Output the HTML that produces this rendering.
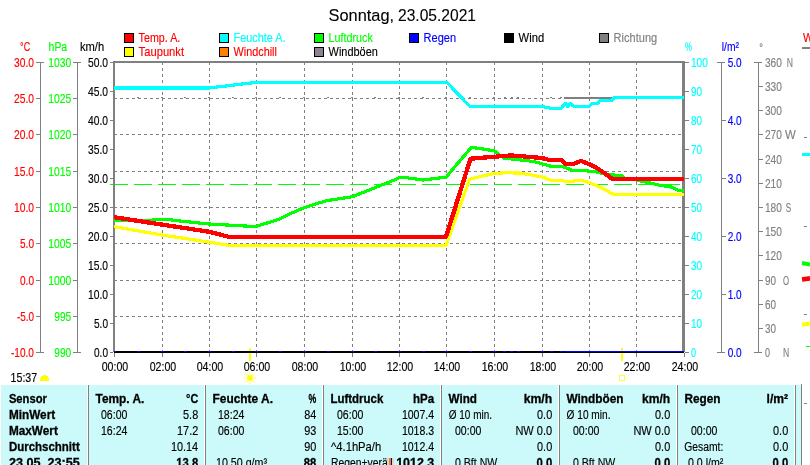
<!DOCTYPE html>
<html lang="de"><head><meta charset="utf-8"><title>Sonntag, 23.05.2021</title>
<style>html,body{margin:0;padding:0;background:#fff;overflow:hidden}svg{display:block}text{white-space:pre}</style></head>
<body>
<svg width="810" height="465" viewBox="0 0 810 465" font-family="'Liberation Sans',sans-serif" shape-rendering="crispEdges">
<rect width="810" height="465" fill="#fff"/>
<text y="21" font-size="16.2" fill="#000" stroke="#000" stroke-width="0.1"><tspan x="328.6" textLength="65.5" lengthAdjust="spacingAndGlyphs">Sonntag,</tspan> <tspan x="398" textLength="78" lengthAdjust="spacingAndGlyphs">23.05.2021</tspan></text>
<rect x="124.5" y="33.5" width="9" height="9" fill="#ff0000" stroke="#000" stroke-width="1"/>
<text transform="translate(138.60,42) scale(0.8576,1)" fill="#ff0000" stroke="#ff0000" stroke-width="0.15" font-size="12.5">Temp. A.</text>
<rect x="124.5" y="47.5" width="9" height="9" fill="#ffff00" stroke="#000" stroke-width="1"/>
<text transform="translate(138.60,56) scale(0.8966,1)" fill="#ff0000" stroke="#ff0000" stroke-width="0.15" font-size="12.5">Taupunkt</text>
<rect x="219.5" y="33.5" width="9" height="9" fill="#00ffff" stroke="#000" stroke-width="1"/>
<text transform="translate(233.60,42) scale(0.8700,1)" fill="#00ffff" stroke="#00ffff" stroke-width="0.15" font-size="12.5">Feuchte A.</text>
<rect x="219.5" y="47.5" width="9" height="9" fill="#ff8000" stroke="#000" stroke-width="1"/>
<text transform="translate(233.60,56) scale(0.8660,1)" fill="#ff0000" stroke="#ff0000" stroke-width="0.15" font-size="12.5">Windchill</text>
<rect x="314.5" y="33.5" width="9" height="9" fill="#00ff00" stroke="#000" stroke-width="1"/>
<text transform="translate(328.60,42) scale(0.8602,1)" fill="#00ff00" stroke="#00ff00" stroke-width="0.15" font-size="12.5">Luftdruck</text>
<rect x="314.5" y="47.5" width="9" height="9" fill="#8c8292" stroke="#000" stroke-width="1"/>
<text transform="translate(328.60,56) scale(0.8755,1)" fill="#000" stroke="#000" stroke-width="0.15" font-size="12.5">Windböen</text>
<rect x="409.5" y="33.5" width="9" height="9" fill="#0000ff" stroke="#000" stroke-width="1"/>
<text transform="translate(423.60,42) scale(0.8829,1)" fill="#0000ff" stroke="#0000ff" stroke-width="0.15" font-size="12.5">Regen</text>
<rect x="504.5" y="33.5" width="9" height="9" fill="#000000" stroke="#000" stroke-width="1"/>
<text transform="translate(518.60,42) scale(0.8982,1)" fill="#000" stroke="#000" stroke-width="0.15" font-size="12.5">Wind</text>
<rect x="599.5" y="33.5" width="9" height="9" fill="#808080" stroke="#000" stroke-width="1"/>
<text transform="translate(613.60,42) scale(0.8842,1)" fill="#808080" stroke="#808080" stroke-width="0.15" font-size="12.5">Richtung</text>
<g stroke="#808080" stroke-width="1" stroke-dasharray="3 3" fill="none">
<line x1="162.5" y1="62" x2="162.5" y2="351"/>
<line x1="209.5" y1="62" x2="209.5" y2="351"/>
<line x1="256.5" y1="62" x2="256.5" y2="351"/>
<line x1="304.5" y1="62" x2="304.5" y2="351"/>
<line x1="352.5" y1="62" x2="352.5" y2="351"/>
<line x1="399.5" y1="62" x2="399.5" y2="351"/>
<line x1="446.5" y1="62" x2="446.5" y2="351"/>
<line x1="494.5" y1="62" x2="494.5" y2="351"/>
<line x1="542.5" y1="62" x2="542.5" y2="351"/>
<line x1="589.5" y1="62" x2="589.5" y2="351"/>
<line x1="636.5" y1="62" x2="636.5" y2="351"/>
<line x1="114" y1="98.5" x2="683" y2="98.5"/>
<line x1="114" y1="134.5" x2="683" y2="134.5"/>
<line x1="114" y1="171.5" x2="683" y2="171.5"/>
<line x1="114" y1="207.5" x2="683" y2="207.5"/>
<line x1="114" y1="243.5" x2="683" y2="243.5"/>
<line x1="114" y1="280.5" x2="683" y2="280.5"/>
<line x1="114" y1="316.5" x2="683" y2="316.5"/>
</g>
<line x1="110.2" y1="184.5" x2="683" y2="184.5" stroke="#00ff00" stroke-width="1" stroke-dasharray="17.5 6.5"/>
<g fill="#808080">
<rect x="137" y="97" width="2" height="1"/>
<rect x="161" y="97" width="2" height="1"/>
<rect x="184" y="97" width="2" height="1"/>
<rect x="208" y="97" width="2" height="1"/>
<rect x="232" y="97" width="2" height="1"/>
<rect x="255" y="97" width="2" height="1"/>
<rect x="279" y="97" width="2" height="1"/>
<rect x="303" y="97" width="2" height="1"/>
<rect x="327" y="97" width="2" height="1"/>
<rect x="351" y="97" width="2" height="1"/>
<rect x="374" y="97" width="2" height="1"/>
<rect x="398" y="97" width="2" height="1"/>
<rect x="422" y="97" width="2" height="1"/>
<rect x="445" y="97" width="2" height="1"/>
<rect x="469" y="97" width="2" height="1"/>
<rect x="493" y="97" width="2" height="1"/>
<rect x="504" y="97" width="2" height="1"/>
<rect x="511" y="97" width="2" height="1"/>
<rect x="517" y="97" width="2" height="1"/>
<rect x="550" y="97" width="2" height="1"/>
<rect x="560" y="97" width="2" height="1"/>
<rect x="564" y="97" width="49" height="2"/>
</g>
<rect x="113" y="61" width="572" height="2" fill="#808080"/>
<rect x="113" y="61" width="2" height="291" fill="#808080"/>
<rect x="682" y="61" width="3" height="291" fill="#808080"/>
<g shape-rendering="crispEdges">
<polyline points="114.0,88.0 209.0,88.0 256.5,82.3 446.8,82.3 469.7,106.3 544.0,106.3 544.5,107.3 549.0,107.3 549.5,108.3 561.2,108.3 565.5,103.2 567.7,106.6 570.3,103.3 573.7,106.4 589.3,106.4 591.9,103.6 597.5,103.6 600.0,100.4 611.7,100.4 614.2,97.5 684.0,97.5" fill="none" stroke="#00ffff" stroke-width="3.2" stroke-linejoin="round" stroke-linecap="butt"/>
<polyline points="114.0,226.7 162.0,235.0 209.4,242.2 229.0,245.4 446.0,245.4 469.5,179.3 480.0,176.5 494.5,173.4 505.0,172.8 520.0,173.0 542.3,177.0 551.0,180.2 561.0,180.4 567.0,181.8 581.0,180.3 589.6,182.6 603.4,188.6 610.3,192.8 614.6,194.5 684.0,194.5" fill="none" stroke="#ffff00" stroke-width="3.2" stroke-linejoin="round" stroke-linecap="butt"/>
<polyline points="114.0,220.6 150.0,220.4 155.0,219.8 170.0,219.8 180.0,221.0 209.0,224.0 250.0,226.3 256.5,226.2 267.3,222.9 279.4,219.1 291.5,213.2 304.0,207.7 326.0,200.8 352.0,196.8 390.0,181.8 400.4,177.3 405.0,177.5 422.8,180.0 445.3,177.3 446.5,177.0 452.0,170.0 471.5,147.3 494.5,150.8 503.5,158.0 533.7,161.5 551.0,166.3 563.0,166.7 572.3,170.3 586.0,170.8 596.5,172.0 608.0,175.0 621.0,175.2 624.0,178.0 634.0,179.0 638.0,180.6 648.3,182.4 658.7,185.1 672.5,187.2 677.7,190.3 684.0,190.7" fill="none" stroke="#00ff00" stroke-width="3.2" stroke-linejoin="round" stroke-linecap="butt"/>
<polyline points="114.0,217.2 162.0,224.6 209.4,231.8 229.0,236.9 446.0,236.9 470.5,158.7 511.2,155.4 542.3,158.0 549.0,160.0 561.0,160.0 565.4,163.9 573.0,164.0 581.0,161.0 589.6,164.4 596.5,167.9 605.0,173.4 612.0,178.8 614.0,179.2 684.0,179.2" fill="none" stroke="#ff0000" stroke-width="4.3" stroke-linejoin="round" stroke-linecap="butt"/>
</g>
<rect x="249" y="348" width="2" height="13" fill="#ffff00"/>
<rect x="621" y="348" width="2" height="13" fill="#ffff00"/>
<rect x="114" y="351" width="570" height="2" fill="#000"/>
<g fill="#0000ff">
<rect x="114" y="351" width="2" height="1"/>
<rect x="137" y="351" width="3" height="1"/>
<rect x="161" y="351" width="3" height="1"/>
<rect x="184" y="351" width="3" height="1"/>
<rect x="208" y="351" width="3" height="1"/>
<rect x="232" y="351" width="3" height="1"/>
<rect x="255" y="351" width="3" height="1"/>
<rect x="279" y="351" width="3" height="1"/>
<rect x="303" y="351" width="3" height="1"/>
<rect x="327" y="351" width="3" height="1"/>
<rect x="351" y="351" width="3" height="1"/>
<rect x="374" y="351" width="3" height="1"/>
<rect x="398" y="351" width="3" height="1"/>
<rect x="422" y="351" width="3" height="1"/>
<rect x="445" y="351" width="3" height="1"/>
<rect x="469" y="351" width="3" height="1"/>
<rect x="493" y="351" width="3" height="1"/>
<rect x="541" y="351" width="3" height="1"/>
<rect x="503" y="351" width="3" height="1"/>
<rect x="510" y="351" width="3" height="1"/>
<rect x="517" y="351" width="3" height="1"/>
<rect x="550" y="351" width="3" height="1"/>
<rect x="560" y="351" width="3" height="1"/>
<rect x="564" y="351" width="120" height="1"/>
</g>
<rect x="114" y="353" width="1" height="4" fill="#808080"/>
<text transform="translate(101.70,371) scale(0.8495,1)" fill="#000" stroke="#000" stroke-width="0.15" font-size="12.5">00:00</text>
<rect x="162" y="353" width="1" height="4" fill="#808080"/>
<text transform="translate(149.70,371) scale(0.8495,1)" fill="#000" stroke="#000" stroke-width="0.15" font-size="12.5">02:00</text>
<rect x="209" y="353" width="1" height="4" fill="#808080"/>
<text transform="translate(196.70,371) scale(0.8495,1)" fill="#000" stroke="#000" stroke-width="0.15" font-size="12.5">04:00</text>
<rect x="256" y="353" width="1" height="4" fill="#808080"/>
<text transform="translate(243.70,371) scale(0.8495,1)" fill="#000" stroke="#000" stroke-width="0.15" font-size="12.5">06:00</text>
<rect x="304" y="353" width="1" height="4" fill="#808080"/>
<text transform="translate(291.70,371) scale(0.8495,1)" fill="#000" stroke="#000" stroke-width="0.15" font-size="12.5">08:00</text>
<rect x="352" y="353" width="1" height="4" fill="#808080"/>
<text transform="translate(339.70,371) scale(0.8495,1)" fill="#000" stroke="#000" stroke-width="0.15" font-size="12.5">10:00</text>
<rect x="399" y="353" width="1" height="4" fill="#808080"/>
<text transform="translate(386.70,371) scale(0.8495,1)" fill="#000" stroke="#000" stroke-width="0.15" font-size="12.5">12:00</text>
<rect x="446" y="353" width="1" height="4" fill="#808080"/>
<text transform="translate(433.70,371) scale(0.8495,1)" fill="#000" stroke="#000" stroke-width="0.15" font-size="12.5">14:00</text>
<rect x="494" y="353" width="1" height="4" fill="#808080"/>
<text transform="translate(481.70,371) scale(0.8495,1)" fill="#000" stroke="#000" stroke-width="0.15" font-size="12.5">16:00</text>
<rect x="542" y="353" width="1" height="4" fill="#808080"/>
<text transform="translate(529.70,371) scale(0.8495,1)" fill="#000" stroke="#000" stroke-width="0.15" font-size="12.5">18:00</text>
<rect x="589" y="353" width="1" height="4" fill="#808080"/>
<text transform="translate(576.70,371) scale(0.8495,1)" fill="#000" stroke="#000" stroke-width="0.15" font-size="12.5">20:00</text>
<rect x="636" y="353" width="1" height="4" fill="#808080"/>
<text transform="translate(623.70,371) scale(0.8495,1)" fill="#000" stroke="#000" stroke-width="0.15" font-size="12.5">22:00</text>
<rect x="684" y="353" width="1" height="4" fill="#808080"/>
<text transform="translate(671.70,371) scale(0.8495,1)" fill="#000" stroke="#000" stroke-width="0.15" font-size="12.5">24:00</text>
<rect x="40" y="62" width="1" height="291" fill="#808080"/>
<rect x="36" y="62" width="8" height="1" fill="#808080"/>
<text transform="translate(14.00,67) scale(0.8226,1)" fill="#ff0000" stroke="#ff0000" stroke-width="0.15" font-size="12.5">30.0</text>
<rect x="36" y="98" width="4" height="1" fill="#808080"/>
<text transform="translate(14.00,103) scale(0.8226,1)" fill="#ff0000" stroke="#ff0000" stroke-width="0.15" font-size="12.5">25.0</text>
<rect x="36" y="134" width="4" height="1" fill="#808080"/>
<text transform="translate(14.00,139) scale(0.8226,1)" fill="#ff0000" stroke="#ff0000" stroke-width="0.15" font-size="12.5">20.0</text>
<rect x="36" y="171" width="4" height="1" fill="#808080"/>
<text transform="translate(14.00,176) scale(0.8226,1)" fill="#ff0000" stroke="#ff0000" stroke-width="0.15" font-size="12.5">15.0</text>
<rect x="36" y="207" width="4" height="1" fill="#808080"/>
<text transform="translate(14.00,212) scale(0.8226,1)" fill="#ff0000" stroke="#ff0000" stroke-width="0.15" font-size="12.5">10.0</text>
<rect x="36" y="243" width="4" height="1" fill="#808080"/>
<text transform="translate(20.00,248) scale(0.8058,1)" fill="#ff0000" stroke="#ff0000" stroke-width="0.15" font-size="12.5">5.0</text>
<rect x="36" y="280" width="4" height="1" fill="#808080"/>
<text transform="translate(20.00,285) scale(0.8058,1)" fill="#ff0000" stroke="#ff0000" stroke-width="0.15" font-size="12.5">0.0</text>
<rect x="36" y="316" width="4" height="1" fill="#808080"/>
<text transform="translate(17.00,321) scale(0.7884,1)" fill="#ff0000" stroke="#ff0000" stroke-width="0.15" font-size="12.5">-5.0</text>
<rect x="36" y="352" width="8" height="1" fill="#808080"/>
<text transform="translate(11.00,357) scale(0.8070,1)" fill="#ff0000" stroke="#ff0000" stroke-width="0.15" font-size="12.5">-10.0</text>
<text transform="translate(20.10,51) scale(0.7214,1)" fill="#ff0000" stroke="#ff0000" stroke-width="0.15" font-size="12.5">°C</text>
<rect x="77" y="62" width="1" height="291" fill="#808080"/>
<rect x="73" y="62" width="8" height="1" fill="#808080"/>
<text transform="translate(48.30,67) scale(0.8270,1)" fill="#00ff00" stroke="#00ff00" stroke-width="0.15" font-size="12.5">1030</text>
<rect x="73" y="98" width="4" height="1" fill="#808080"/>
<text transform="translate(48.30,103) scale(0.8270,1)" fill="#00ff00" stroke="#00ff00" stroke-width="0.15" font-size="12.5">1025</text>
<rect x="73" y="134" width="4" height="1" fill="#808080"/>
<text transform="translate(48.30,139) scale(0.8270,1)" fill="#00ff00" stroke="#00ff00" stroke-width="0.15" font-size="12.5">1020</text>
<rect x="73" y="171" width="4" height="1" fill="#808080"/>
<text transform="translate(48.30,176) scale(0.8270,1)" fill="#00ff00" stroke="#00ff00" stroke-width="0.15" font-size="12.5">1015</text>
<rect x="73" y="207" width="4" height="1" fill="#808080"/>
<text transform="translate(48.30,212) scale(0.8270,1)" fill="#00ff00" stroke="#00ff00" stroke-width="0.15" font-size="12.5">1010</text>
<rect x="73" y="243" width="4" height="1" fill="#808080"/>
<text transform="translate(48.30,248) scale(0.8270,1)" fill="#00ff00" stroke="#00ff00" stroke-width="0.15" font-size="12.5">1005</text>
<rect x="73" y="280" width="4" height="1" fill="#808080"/>
<text transform="translate(48.30,285) scale(0.8270,1)" fill="#00ff00" stroke="#00ff00" stroke-width="0.15" font-size="12.5">1000</text>
<rect x="73" y="316" width="4" height="1" fill="#808080"/>
<text transform="translate(54.30,321) scale(0.8144,1)" fill="#00ff00" stroke="#00ff00" stroke-width="0.15" font-size="12.5">995</text>
<rect x="73" y="352" width="8" height="1" fill="#808080"/>
<text transform="translate(54.30,357) scale(0.8144,1)" fill="#00ff00" stroke="#00ff00" stroke-width="0.15" font-size="12.5">990</text>
<text transform="translate(48.60,51) scale(0.8336,1)" fill="#00ff00" stroke="#00ff00" stroke-width="0.15" font-size="12.5">hPa</text>
<rect x="110" y="62" width="3" height="1" fill="#808080"/>
<text transform="translate(88.00,67) scale(0.8226,1)" fill="#000" stroke="#000" stroke-width="0.15" font-size="12.5">50.0</text>
<rect x="110" y="91" width="3" height="1" fill="#808080"/>
<text transform="translate(88.00,96) scale(0.8226,1)" fill="#000" stroke="#000" stroke-width="0.15" font-size="12.5">45.0</text>
<rect x="110" y="120" width="3" height="1" fill="#808080"/>
<text transform="translate(88.00,125) scale(0.8226,1)" fill="#000" stroke="#000" stroke-width="0.15" font-size="12.5">40.0</text>
<rect x="110" y="149" width="3" height="1" fill="#808080"/>
<text transform="translate(88.00,154) scale(0.8226,1)" fill="#000" stroke="#000" stroke-width="0.15" font-size="12.5">35.0</text>
<rect x="110" y="178" width="3" height="1" fill="#808080"/>
<text transform="translate(88.00,183) scale(0.8226,1)" fill="#000" stroke="#000" stroke-width="0.15" font-size="12.5">30.0</text>
<rect x="110" y="207" width="3" height="1" fill="#808080"/>
<text transform="translate(88.00,212) scale(0.8226,1)" fill="#000" stroke="#000" stroke-width="0.15" font-size="12.5">25.0</text>
<rect x="110" y="236" width="3" height="1" fill="#808080"/>
<text transform="translate(88.00,241) scale(0.8226,1)" fill="#000" stroke="#000" stroke-width="0.15" font-size="12.5">20.0</text>
<rect x="110" y="265" width="3" height="1" fill="#808080"/>
<text transform="translate(88.00,270) scale(0.8226,1)" fill="#000" stroke="#000" stroke-width="0.15" font-size="12.5">15.0</text>
<rect x="110" y="294" width="3" height="1" fill="#808080"/>
<text transform="translate(88.00,299) scale(0.8226,1)" fill="#000" stroke="#000" stroke-width="0.15" font-size="12.5">10.0</text>
<rect x="110" y="323" width="3" height="1" fill="#808080"/>
<text transform="translate(94.00,328) scale(0.8058,1)" fill="#000" stroke="#000" stroke-width="0.15" font-size="12.5">5.0</text>
<rect x="110" y="352" width="3" height="1" fill="#808080"/>
<text transform="translate(94.00,357) scale(0.8058,1)" fill="#000" stroke="#000" stroke-width="0.15" font-size="12.5">0.0</text>
<text transform="translate(79.90,51) scale(0.8942,1)" fill="#000" stroke="#000" stroke-width="0.15" font-size="12.5">km/h</text>
<rect x="685" y="62" width="4" height="1" fill="#808080"/>
<text transform="translate(690.90,67) scale(0.8144,1)" fill="#00ffff" stroke="#00ffff" stroke-width="0.15" font-size="12.5">100</text>
<rect x="685" y="91" width="4" height="1" fill="#808080"/>
<text transform="translate(690.90,96) scale(0.7928,1)" fill="#00ffff" stroke="#00ffff" stroke-width="0.15" font-size="12.5">90</text>
<rect x="685" y="120" width="4" height="1" fill="#808080"/>
<text transform="translate(690.90,125) scale(0.7928,1)" fill="#00ffff" stroke="#00ffff" stroke-width="0.15" font-size="12.5">80</text>
<rect x="685" y="149" width="4" height="1" fill="#808080"/>
<text transform="translate(690.90,154) scale(0.7928,1)" fill="#00ffff" stroke="#00ffff" stroke-width="0.15" font-size="12.5">70</text>
<rect x="685" y="178" width="4" height="1" fill="#808080"/>
<text transform="translate(690.90,183) scale(0.7928,1)" fill="#00ffff" stroke="#00ffff" stroke-width="0.15" font-size="12.5">60</text>
<rect x="685" y="207" width="4" height="1" fill="#808080"/>
<text transform="translate(690.90,212) scale(0.7928,1)" fill="#00ffff" stroke="#00ffff" stroke-width="0.15" font-size="12.5">50</text>
<rect x="685" y="236" width="4" height="1" fill="#808080"/>
<text transform="translate(690.90,241) scale(0.7928,1)" fill="#00ffff" stroke="#00ffff" stroke-width="0.15" font-size="12.5">40</text>
<rect x="685" y="265" width="4" height="1" fill="#808080"/>
<text transform="translate(690.90,270) scale(0.7928,1)" fill="#00ffff" stroke="#00ffff" stroke-width="0.15" font-size="12.5">30</text>
<rect x="685" y="294" width="4" height="1" fill="#808080"/>
<text transform="translate(690.90,299) scale(0.7928,1)" fill="#00ffff" stroke="#00ffff" stroke-width="0.15" font-size="12.5">20</text>
<rect x="685" y="323" width="4" height="1" fill="#808080"/>
<text transform="translate(690.90,328) scale(0.7928,1)" fill="#00ffff" stroke="#00ffff" stroke-width="0.15" font-size="12.5">10</text>
<rect x="685" y="352" width="4" height="1" fill="#808080"/>
<text transform="translate(690.90,357) scale(0.7207,1)" fill="#00ffff" stroke="#00ffff" stroke-width="0.15" font-size="12.5">0</text>
<text transform="translate(685.00,51) scale(0.6292,1)" fill="#00ffff" stroke="#00ffff" stroke-width="0.15" font-size="12.5">%</text>
<rect x="721" y="62" width="1" height="291" fill="#808080"/>
<rect x="717" y="62" width="8" height="1" fill="#808080"/>
<text transform="translate(727.70,67) scale(0.8058,1)" fill="#0000ff" stroke="#0000ff" stroke-width="0.15" font-size="12.5">5.0</text>
<rect x="722" y="120" width="4" height="1" fill="#808080"/>
<text transform="translate(727.70,125) scale(0.8058,1)" fill="#0000ff" stroke="#0000ff" stroke-width="0.15" font-size="12.5">4.0</text>
<rect x="722" y="178" width="4" height="1" fill="#808080"/>
<text transform="translate(727.70,183) scale(0.8058,1)" fill="#0000ff" stroke="#0000ff" stroke-width="0.15" font-size="12.5">3.0</text>
<rect x="722" y="236" width="4" height="1" fill="#808080"/>
<text transform="translate(727.70,241) scale(0.8058,1)" fill="#0000ff" stroke="#0000ff" stroke-width="0.15" font-size="12.5">2.0</text>
<rect x="722" y="294" width="4" height="1" fill="#808080"/>
<text transform="translate(727.70,299) scale(0.8058,1)" fill="#0000ff" stroke="#0000ff" stroke-width="0.15" font-size="12.5">1.0</text>
<rect x="717" y="352" width="8" height="1" fill="#808080"/>
<text transform="translate(727.70,357) scale(0.8058,1)" fill="#0000ff" stroke="#0000ff" stroke-width="0.15" font-size="12.5">0.0</text>
<text transform="translate(721.80,51) scale(0.8264,1)" fill="#0000ff" stroke="#0000ff" stroke-width="0.15" font-size="12.5">l/m²</text>
<rect x="758" y="62" width="1" height="291" fill="#808080"/>
<rect x="754" y="62" width="8" height="1" fill="#808080"/>
<text transform="translate(764.90,67) scale(0.8144,1)" fill="#808080" stroke="#808080" stroke-width="0.15" font-size="12.5">360</text>
<text transform="translate(786.70,67) scale(0.6889,1)" fill="#808080" stroke="#808080" stroke-width="0.15" font-size="12.5">N</text>
<rect x="759" y="86" width="4" height="1" fill="#808080"/>
<text transform="translate(764.90,91) scale(0.8144,1)" fill="#808080" stroke="#808080" stroke-width="0.15" font-size="12.5">330</text>
<rect x="759" y="110" width="4" height="1" fill="#808080"/>
<text transform="translate(764.90,115) scale(0.8144,1)" fill="#808080" stroke="#808080" stroke-width="0.15" font-size="12.5">300</text>
<rect x="759" y="134" width="4" height="1" fill="#808080"/>
<text transform="translate(764.90,139) scale(0.8144,1)" fill="#808080" stroke="#808080" stroke-width="0.15" font-size="12.5">270</text>
<text transform="translate(785.00,139) scale(0.9143,1)" fill="#808080" stroke="#808080" stroke-width="0.15" font-size="12.5">W</text>
<rect x="759" y="159" width="4" height="1" fill="#808080"/>
<text transform="translate(764.90,164) scale(0.8144,1)" fill="#808080" stroke="#808080" stroke-width="0.15" font-size="12.5">240</text>
<rect x="759" y="183" width="4" height="1" fill="#808080"/>
<text transform="translate(764.90,188) scale(0.8144,1)" fill="#808080" stroke="#808080" stroke-width="0.15" font-size="12.5">210</text>
<rect x="759" y="207" width="4" height="1" fill="#808080"/>
<text transform="translate(764.90,212) scale(0.8144,1)" fill="#808080" stroke="#808080" stroke-width="0.15" font-size="12.5">180</text>
<text transform="translate(785.80,212) scale(0.6496,1)" fill="#808080" stroke="#808080" stroke-width="0.15" font-size="12.5">S</text>
<rect x="759" y="231" width="4" height="1" fill="#808080"/>
<text transform="translate(764.90,236) scale(0.8144,1)" fill="#808080" stroke="#808080" stroke-width="0.15" font-size="12.5">150</text>
<rect x="759" y="255" width="4" height="1" fill="#808080"/>
<text transform="translate(764.90,260) scale(0.8144,1)" fill="#808080" stroke="#808080" stroke-width="0.15" font-size="12.5">120</text>
<rect x="759" y="280" width="4" height="1" fill="#808080"/>
<text transform="translate(764.90,285) scale(0.7928,1)" fill="#808080" stroke="#808080" stroke-width="0.15" font-size="12.5">90</text>
<text transform="translate(783.00,285) scale(0.6256,1)" fill="#808080" stroke="#808080" stroke-width="0.15" font-size="12.5">O</text>
<rect x="759" y="304" width="4" height="1" fill="#808080"/>
<text transform="translate(764.90,309) scale(0.7928,1)" fill="#808080" stroke="#808080" stroke-width="0.15" font-size="12.5">60</text>
<rect x="759" y="328" width="4" height="1" fill="#808080"/>
<text transform="translate(764.90,333) scale(0.7928,1)" fill="#808080" stroke="#808080" stroke-width="0.15" font-size="12.5">30</text>
<rect x="754" y="352" width="8" height="1" fill="#808080"/>
<text transform="translate(764.90,357) scale(0.7207,1)" fill="#808080" stroke="#808080" stroke-width="0.15" font-size="12.5">0</text>
<text transform="translate(783.00,357) scale(0.6889,1)" fill="#808080" stroke="#808080" stroke-width="0.15" font-size="12.5">N</text>
<text transform="translate(759.30,50.5) scale(0.9000,1)" fill="#808080" stroke="#808080" stroke-width="0.15" font-size="10.5">°</text>
<text transform="translate(803.00,42) scale(0.8700,1)" fill="#ff0000" stroke="#ff0000" stroke-width="0.15" font-size="12.5">W</text>
<rect x="802" y="47" width="8" height="2" fill="#808080"/>
<rect x="802" y="153" width="8" height="3" fill="#00ffff"/>
<g shape-rendering="geometricPrecision">
<polyline points="802.0,263.0 810.0,264.5" fill="none" stroke="#00ff00" stroke-width="4" stroke-linejoin="round" stroke-linecap="butt"/>
<polyline points="802.0,279.5 810.0,278.3" fill="none" stroke="#ff0000" stroke-width="4.6" stroke-linejoin="round" stroke-linecap="butt"/>
<polyline points="802.0,324.8 810.0,323.6" fill="none" stroke="#ffff00" stroke-width="4" stroke-linejoin="round" stroke-linecap="butt"/>
</g>
<rect x="806" y="346" width="4" height="1" fill="#00ff00"/>
<rect x="804" y="137" width="3" height="1" fill="#808080"/>
<rect x="804" y="226" width="3" height="1" fill="#808080"/>
<rect x="804" y="314" width="3" height="1" fill="#808080"/>
<rect x="804" y="403" width="3" height="1" fill="#808080"/>
<text transform="translate(10.60,382) scale(0.8495,1)" fill="#000" stroke="#000" stroke-width="0.15" font-size="12.5">15:37</text>
<path d="M40,381 V378 H41 V376 H43 V375 H46 V376 H48 V378 H49 V381 Z" fill="#ffff00"/>
<g shape-rendering="geometricPrecision" fill="none">
<circle cx="250" cy="378" r="4.7" stroke="#ffffb0" stroke-width="0.9"/>
<line x1="252.4" y1="380.4" x2="254.9" y2="382.9" stroke="#ffff70" stroke-width="1"/>
<line x1="252.4" y1="375.6" x2="254.9" y2="373.1" stroke="#ffff70" stroke-width="1"/>
<line x1="247.6" y1="380.4" x2="245.1" y2="382.9" stroke="#ffff70" stroke-width="1"/>
<line x1="247.6" y1="375.6" x2="245.1" y2="373.1" stroke="#ffff70" stroke-width="1"/>
<circle cx="250.0" cy="383.4" r="0.9" fill="#ffff90"/>
<circle cx="255.4" cy="378.0" r="0.9" fill="#ffff90"/>
<circle cx="250.0" cy="372.6" r="0.9" fill="#ffff90"/>
<circle cx="244.6" cy="378.0" r="0.9" fill="#ffff90"/>
<circle cx="250" cy="378" r="3" fill="#ffff00"/></g>
<rect x="619.5" y="375.5" width="5" height="5" fill="#fff" stroke="#ffff40" stroke-width="1"/>
<rect x="1" y="385" width="793" height="80" fill="#ccfafa"/>
<rect x="796" y="385" width="5" height="80" fill="#ccfafa"/>
<rect x="795" y="385" width="1" height="80" fill="#808080"/>
<rect x="801" y="384" width="1" height="81" fill="#808080"/>
<rect x="87" y="385" width="1" height="80" fill="#fff"/>
<rect x="88" y="385" width="1" height="80" fill="#808080"/>
<rect x="204" y="385" width="1" height="80" fill="#fff"/>
<rect x="205" y="385" width="1" height="80" fill="#808080"/>
<rect x="322" y="385" width="1" height="80" fill="#fff"/>
<rect x="323" y="385" width="1" height="80" fill="#808080"/>
<rect x="440" y="385" width="1" height="80" fill="#fff"/>
<rect x="441" y="385" width="1" height="80" fill="#808080"/>
<rect x="558" y="385" width="1" height="80" fill="#fff"/>
<rect x="559" y="385" width="1" height="80" fill="#808080"/>
<rect x="676" y="385" width="1" height="80" fill="#fff"/>
<rect x="677" y="385" width="1" height="80" fill="#808080"/>
<text transform="translate(8.90,403) scale(0.8968,1)" fill="#000" stroke="#000" stroke-width="0.3" font-size="12.5" font-weight="bold">Sensor</text>
<text transform="translate(8.90,419) scale(0.9437,1)" fill="#000" stroke="#000" stroke-width="0.3" font-size="12.5" font-weight="bold">MinWert</text>
<text transform="translate(8.90,435) scale(0.9446,1)" fill="#000" stroke="#000" stroke-width="0.3" font-size="12.5" font-weight="bold">MaxWert</text>
<text transform="translate(8.90,451) scale(0.9187,1)" fill="#000" stroke="#000" stroke-width="0.3" font-size="12.5" font-weight="bold">Durchschnitt</text>
<text transform="translate(8.90,467) scale(1.0116,1)" fill="#000" stroke="#000" stroke-width="0.3" font-size="12.5" font-weight="bold">23.05. 23:55</text>
<text transform="translate(95.50,403) scale(0.9518,1)" fill="#000" stroke="#000" stroke-width="0.3" font-size="12.5" font-weight="bold">Temp. A.</text>
<text transform="translate(186.10,403) scale(0.8643,1)" fill="#000" stroke="#000" stroke-width="0.3" font-size="12.5" font-weight="bold">°C</text>
<text transform="translate(212.50,403) scale(0.9537,1)" fill="#000" stroke="#000" stroke-width="0.3" font-size="12.5" font-weight="bold">Feuchte A.</text>
<text transform="translate(308.40,403) scale(0.7011,1)" fill="#000" stroke="#000" stroke-width="0.3" font-size="12.5" font-weight="bold">%</text>
<text transform="translate(330.50,403) scale(0.9170,1)" fill="#000" stroke="#000" stroke-width="0.3" font-size="12.5" font-weight="bold">Luftdruck</text>
<text transform="translate(412.90,403) scale(0.9236,1)" fill="#000" stroke="#000" stroke-width="0.3" font-size="12.5" font-weight="bold">hPa</text>
<text transform="translate(448.50,403) scale(0.9363,1)" fill="#000" stroke="#000" stroke-width="0.3" font-size="12.5" font-weight="bold">Wind</text>
<text transform="translate(523.70,403) scale(0.9764,1)" fill="#000" stroke="#000" stroke-width="0.3" font-size="12.5" font-weight="bold">km/h</text>
<text transform="translate(566.50,403) scale(0.9467,1)" fill="#000" stroke="#000" stroke-width="0.3" font-size="12.5" font-weight="bold">Windböen</text>
<text transform="translate(642.00,403) scale(0.9662,1)" fill="#000" stroke="#000" stroke-width="0.3" font-size="12.5" font-weight="bold">km/h</text>
<text transform="translate(684.50,403) scale(0.9427,1)" fill="#000" stroke="#000" stroke-width="0.3" font-size="12.5" font-weight="bold">Regen</text>
<text transform="translate(766.60,403) scale(0.9708,1)" fill="#000" stroke="#000" stroke-width="0.3" font-size="12.5" font-weight="bold">l/m²</text>
<text transform="translate(101.00,419) scale(0.8431,1)" fill="#000" stroke="#000" stroke-width="0.15" font-size="12.5">06:00</text>
<text transform="translate(183.08,419) scale(0.8700,1)" fill="#000" stroke="#000" stroke-width="0.15" font-size="12.5">5.8</text>
<text transform="translate(101.00,435) scale(0.8431,1)" fill="#000" stroke="#000" stroke-width="0.15" font-size="12.5">16:24</text>
<text transform="translate(177.05,435) scale(0.8700,1)" fill="#000" stroke="#000" stroke-width="0.15" font-size="12.5">17.2</text>
<text transform="translate(170.96,451) scale(0.8700,1)" fill="#000" stroke="#000" stroke-width="0.15" font-size="12.5">10.14</text>
<text transform="translate(176.32,467) scale(0.9000,1)" fill="#000" stroke="#000" stroke-width="0.3" font-size="12.5" font-weight="bold">13.8</text>
<text transform="translate(218.00,419) scale(0.8431,1)" fill="#000" stroke="#000" stroke-width="0.15" font-size="12.5">18:24</text>
<text transform="translate(304.13,419) scale(0.8700,1)" fill="#000" stroke="#000" stroke-width="0.15" font-size="12.5">84</text>
<text transform="translate(218.00,435) scale(0.8431,1)" fill="#000" stroke="#000" stroke-width="0.15" font-size="12.5">06:00</text>
<text transform="translate(304.13,435) scale(0.8700,1)" fill="#000" stroke="#000" stroke-width="0.15" font-size="12.5">93</text>
<text transform="translate(304.13,451) scale(0.8700,1)" fill="#000" stroke="#000" stroke-width="0.15" font-size="12.5">90</text>
<text transform="translate(216.00,467) scale(0.8536,1)" fill="#000" stroke="#000" stroke-width="0.15" font-size="12.5">10.50 g/m³</text>
<text transform="translate(303.71,467) scale(0.9000,1)" fill="#000" stroke="#000" stroke-width="0.3" font-size="12.5" font-weight="bold">88</text>
<text transform="translate(337.00,419) scale(0.8431,1)" fill="#000" stroke="#000" stroke-width="0.15" font-size="12.5">06:00</text>
<text transform="translate(401.90,419) scale(0.8444,1)" fill="#000" stroke="#000" stroke-width="0.15" font-size="12.5">1007.4</text>
<text transform="translate(337.00,435) scale(0.8431,1)" fill="#000" stroke="#000" stroke-width="0.15" font-size="12.5">15:00</text>
<text transform="translate(401.90,435) scale(0.8444,1)" fill="#000" stroke="#000" stroke-width="0.15" font-size="12.5">1018.3</text>
<text transform="translate(331.00,451) scale(0.8992,1)" fill="#000" stroke="#000" stroke-width="0.15" font-size="12.5">^4.1hPa/h</text>
<text transform="translate(401.90,451) scale(0.8444,1)" fill="#000" stroke="#000" stroke-width="0.15" font-size="12.5">1012.4</text>
<text transform="translate(331.00,467) scale(0.8292,1)" fill="#000" stroke="#000" stroke-width="0.15" font-size="12.5">Regen+verä..</text>
<text transform="translate(396.20,467) scale(0.9935,1)" fill="#000" stroke="#000" stroke-width="0.3" font-size="12.5" font-weight="bold">1012.3</text>
<text transform="translate(448.80,419) scale(0.7972,1)" fill="#000" stroke="#000" stroke-width="0.15" font-size="12.5">Ø 10 min.</text>
<text transform="translate(537.08,419) scale(0.8700,1)" fill="#000" stroke="#000" stroke-width="0.15" font-size="12.5">0.0</text>
<text transform="translate(455.00,435) scale(0.8431,1)" fill="#000" stroke="#000" stroke-width="0.15" font-size="12.5">00:00</text>
<text transform="translate(515.40,435) scale(0.8828,1)" fill="#000" stroke="#000" stroke-width="0.15" font-size="12.5">NW 0.0</text>
<text transform="translate(537.08,451) scale(0.8700,1)" fill="#000" stroke="#000" stroke-width="0.15" font-size="12.5">0.0</text>
<text transform="translate(455.00,467) scale(0.8460,1)" fill="#000" stroke="#000" stroke-width="0.15" font-size="12.5">0 Bft NW</text>
<text transform="translate(536.56,467) scale(0.9000,1)" fill="#000" stroke="#000" stroke-width="0.3" font-size="12.5" font-weight="bold">0.0</text>
<text transform="translate(566.60,419) scale(0.8101,1)" fill="#000" stroke="#000" stroke-width="0.15" font-size="12.5">Ø 10 min.</text>
<text transform="translate(655.08,419) scale(0.8700,1)" fill="#000" stroke="#000" stroke-width="0.15" font-size="12.5">0.0</text>
<text transform="translate(573.00,435) scale(0.8431,1)" fill="#000" stroke="#000" stroke-width="0.15" font-size="12.5">00:00</text>
<text transform="translate(633.40,435) scale(0.8828,1)" fill="#000" stroke="#000" stroke-width="0.15" font-size="12.5">NW 0.0</text>
<text transform="translate(655.08,451) scale(0.8700,1)" fill="#000" stroke="#000" stroke-width="0.15" font-size="12.5">0.0</text>
<text transform="translate(573.00,467) scale(0.8460,1)" fill="#000" stroke="#000" stroke-width="0.15" font-size="12.5">0 Bft NW</text>
<text transform="translate(654.56,467) scale(0.9000,1)" fill="#000" stroke="#000" stroke-width="0.3" font-size="12.5" font-weight="bold">0.0</text>
<text transform="translate(691.00,435) scale(0.8431,1)" fill="#000" stroke="#000" stroke-width="0.15" font-size="12.5">00:00</text>
<text transform="translate(773.08,435) scale(0.8700,1)" fill="#000" stroke="#000" stroke-width="0.15" font-size="12.5">0.0</text>
<text transform="translate(684.30,451) scale(0.8254,1)" fill="#000" stroke="#000" stroke-width="0.15" font-size="12.5">Gesamt:</text>
<text transform="translate(773.08,451) scale(0.8700,1)" fill="#000" stroke="#000" stroke-width="0.15" font-size="12.5">0.0</text>
<text transform="translate(688.00,467) scale(0.8492,1)" fill="#000" stroke="#000" stroke-width="0.15" font-size="12.5">0.0 l/m²</text>
<text transform="translate(772.56,467) scale(0.9000,1)" fill="#000" stroke="#000" stroke-width="0.3" font-size="12.5" font-weight="bold">0.0</text>
<rect x="387" y="458" width="7" height="7" fill="#d8d8d8"/><rect x="389" y="458" width="2" height="7" fill="#ff8000"/><rect x="391" y="458" width="1" height="7" fill="#0000c0"/>
</svg>
</body></html>
